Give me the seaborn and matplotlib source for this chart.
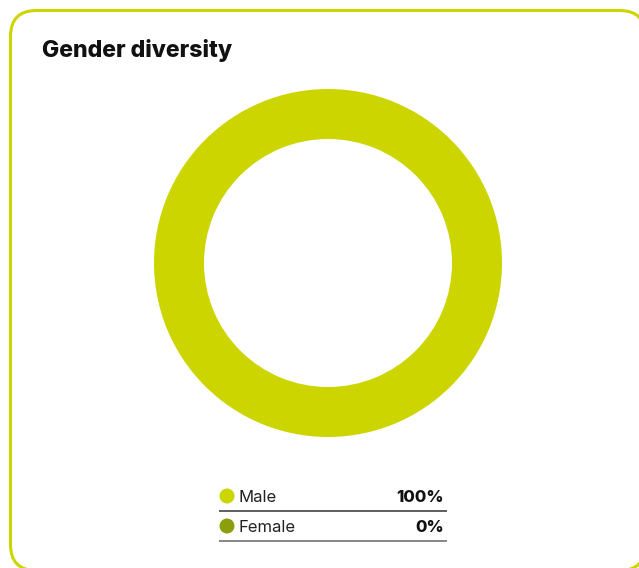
import matplotlib
matplotlib.use("Agg")
import matplotlib.pyplot as plt
import seaborn as sns
from matplotlib.patches import FancyBboxPatch, Circle

categories = ["Male", "Female"]
values = [100, 0]
colors = ["#cdd500", "#8c9e0c"]
title = "Gender diversity"

sns.set_theme(style="white")
plt.rcParams["font.family"] = ["Inter", "DejaVu Sans"]

W, H = 639, 568
fig = plt.figure(figsize=(W / 100, H / 100), dpi=100)
fig.patch.set_facecolor("white")

# overlay in pixel coordinates
ov = fig.add_axes([0, 0, 1, 1])
ov.set_xlim(0, W)
ov.set_ylim(H, 0)
ov.axis("off")

card = FancyBboxPatch((10.5, 10.5), 635, 560,
                      boxstyle="round,pad=0,rounding_size=26",
                      facecolor="white", edgecolor="#cdd500", linewidth=2.2)
ov.add_patch(card)

ov.text(42, 51, title, fontsize=16.6, fontweight="heavy", color="#111111",
        ha="left", va="center")

# donut
cx, cy, R, r = 328, 263, 174, 124
ax = fig.add_axes([(cx - R) / W, (H - cy - R) / H, 2 * R / W, 2 * R / H])
ax.pie(values, colors=colors, startangle=90, counterclock=False, radius=1,
       wedgeprops=dict(width=(R - r) / R, linewidth=0, edgecolor="none"))
ax.set_xlim(-1, 1)
ax.set_ylim(-1, 1)
ax.set_aspect("equal")
ax.axis("off")

# legend table
total = sum(values)
row_y = [496, 526]
for i, (cat, val, col) in enumerate(zip(categories, values, colors)):
    y = row_y[i]
    ov.add_patch(Circle((227, y), 7.5, facecolor=col, edgecolor="none"))
    ov.text(238, y + 1, cat, fontsize=12, color="#222222", ha="left", va="center")
    ov.text(444, y + 1, f"{round(val / total * 100)}%", fontsize=12,
            fontweight="heavy", color="#111111", ha="right", va="center")
    ov.plot([219, 447], [y + 14.5, y + 14.5], color="#333333" if i == 0 else "#666666",
            linewidth=1.1, solid_capstyle="butt")

fig.savefig("out.png", dpi=100, facecolor="white")
